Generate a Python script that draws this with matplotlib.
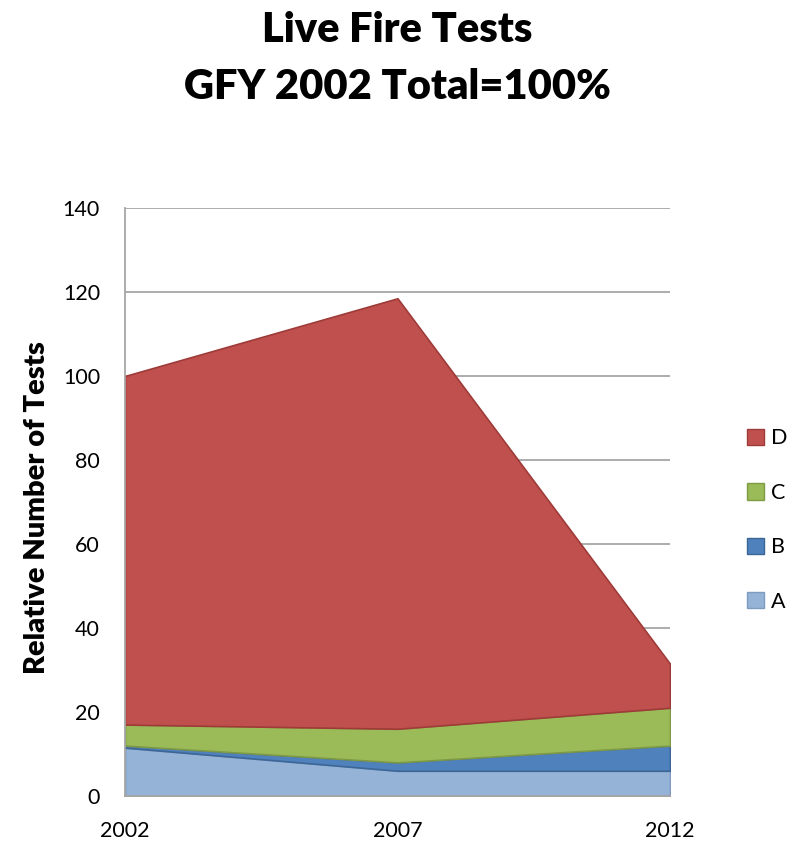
import matplotlib
matplotlib.use("Agg")
import matplotlib.pyplot as plt
import numpy as np
from matplotlib.patches import Patch

years = [2002, 2007, 2012]
series_names = ["A", "B", "C", "D"]
A = [11.5, 6.0, 6.0]
B = [0.5, 2.0, 6.0]
C = [5.0, 8.0, 9.0]
D = [83.0, 102.5, 10.5]
yticks = [0, 20, 40, 60, 80, 100, 120, 140]

colors = {"A": "#95B3D7", "B": "#4F81BD", "C": "#9BBB59", "D": "#C0504D"}
edges = {"A": "#7F9CC0", "B": "#3C6696", "C": "#7F9A45", "D": "#9E3B38"}

plt.rcParams['font.family'] = ['Lato', 'DejaVu Sans']

fig = plt.figure(figsize=(7.94, 8.43), dpi=100)
ax = fig.add_axes([0.1574, 0.0558, 0.6864, 0.6975])

data = {"A": A, "B": B, "C": C, "D": D}
base = np.zeros(len(years))
for name in series_names:
    vals = np.array(data[name])
    top = base + vals
    ax.fill_between(years, base, top, facecolor=colors[name], edgecolor=edges[name], linewidth=1.2, zorder=3)
    base = top

ax.set_xlim(2002, 2012)
ax.set_ylim(0, 140)
ax.set_yticks(yticks)
ax.set_xticks(years)
ax.yaxis.grid(True, color="#A6A6A6", linewidth=1.3, zorder=0)
ax.set_axisbelow(True)
for s in ["top", "right"]:
    ax.spines[s].set_visible(False)
for s in ["left", "bottom"]:
    ax.spines[s].set_color("#A6A6A6")
    ax.spines[s].set_linewidth(1.3)
    ax.spines[s].set_zorder(5)
ax.tick_params(axis="both", labelsize=15.5, length=0, pad=18)
ax.set_ylabel("Relative Number of Tests", fontsize=21, fontweight="heavy")
ax.yaxis.set_label_coords(-0.138, 0.49)

fig.text(0.5, 1 - 30 / 843, "Live Fire Tests", ha="center", va="center", fontsize=30, fontweight="heavy")
fig.text(0.5, 1 - 87 / 843, "GFY 2002 Total=100%", ha="center", va="center", fontsize=30, fontweight="heavy")

handles = [Patch(facecolor=colors[n], edgecolor=edges[n]) for n in reversed(series_names)]
leg = fig.legend(handles, list(reversed(series_names)), loc="center left",
                 frameon=False, fontsize=15.5, handlelength=0.8, handleheight=0.8, labelspacing=1.6,
                 handletextpad=0.3, borderaxespad=0, borderpad=0)
leg.set_bbox_to_anchor((747 / 794, 1 - 520 / 843), transform=fig.transFigure)

fig.savefig("out.png", dpi=100)
